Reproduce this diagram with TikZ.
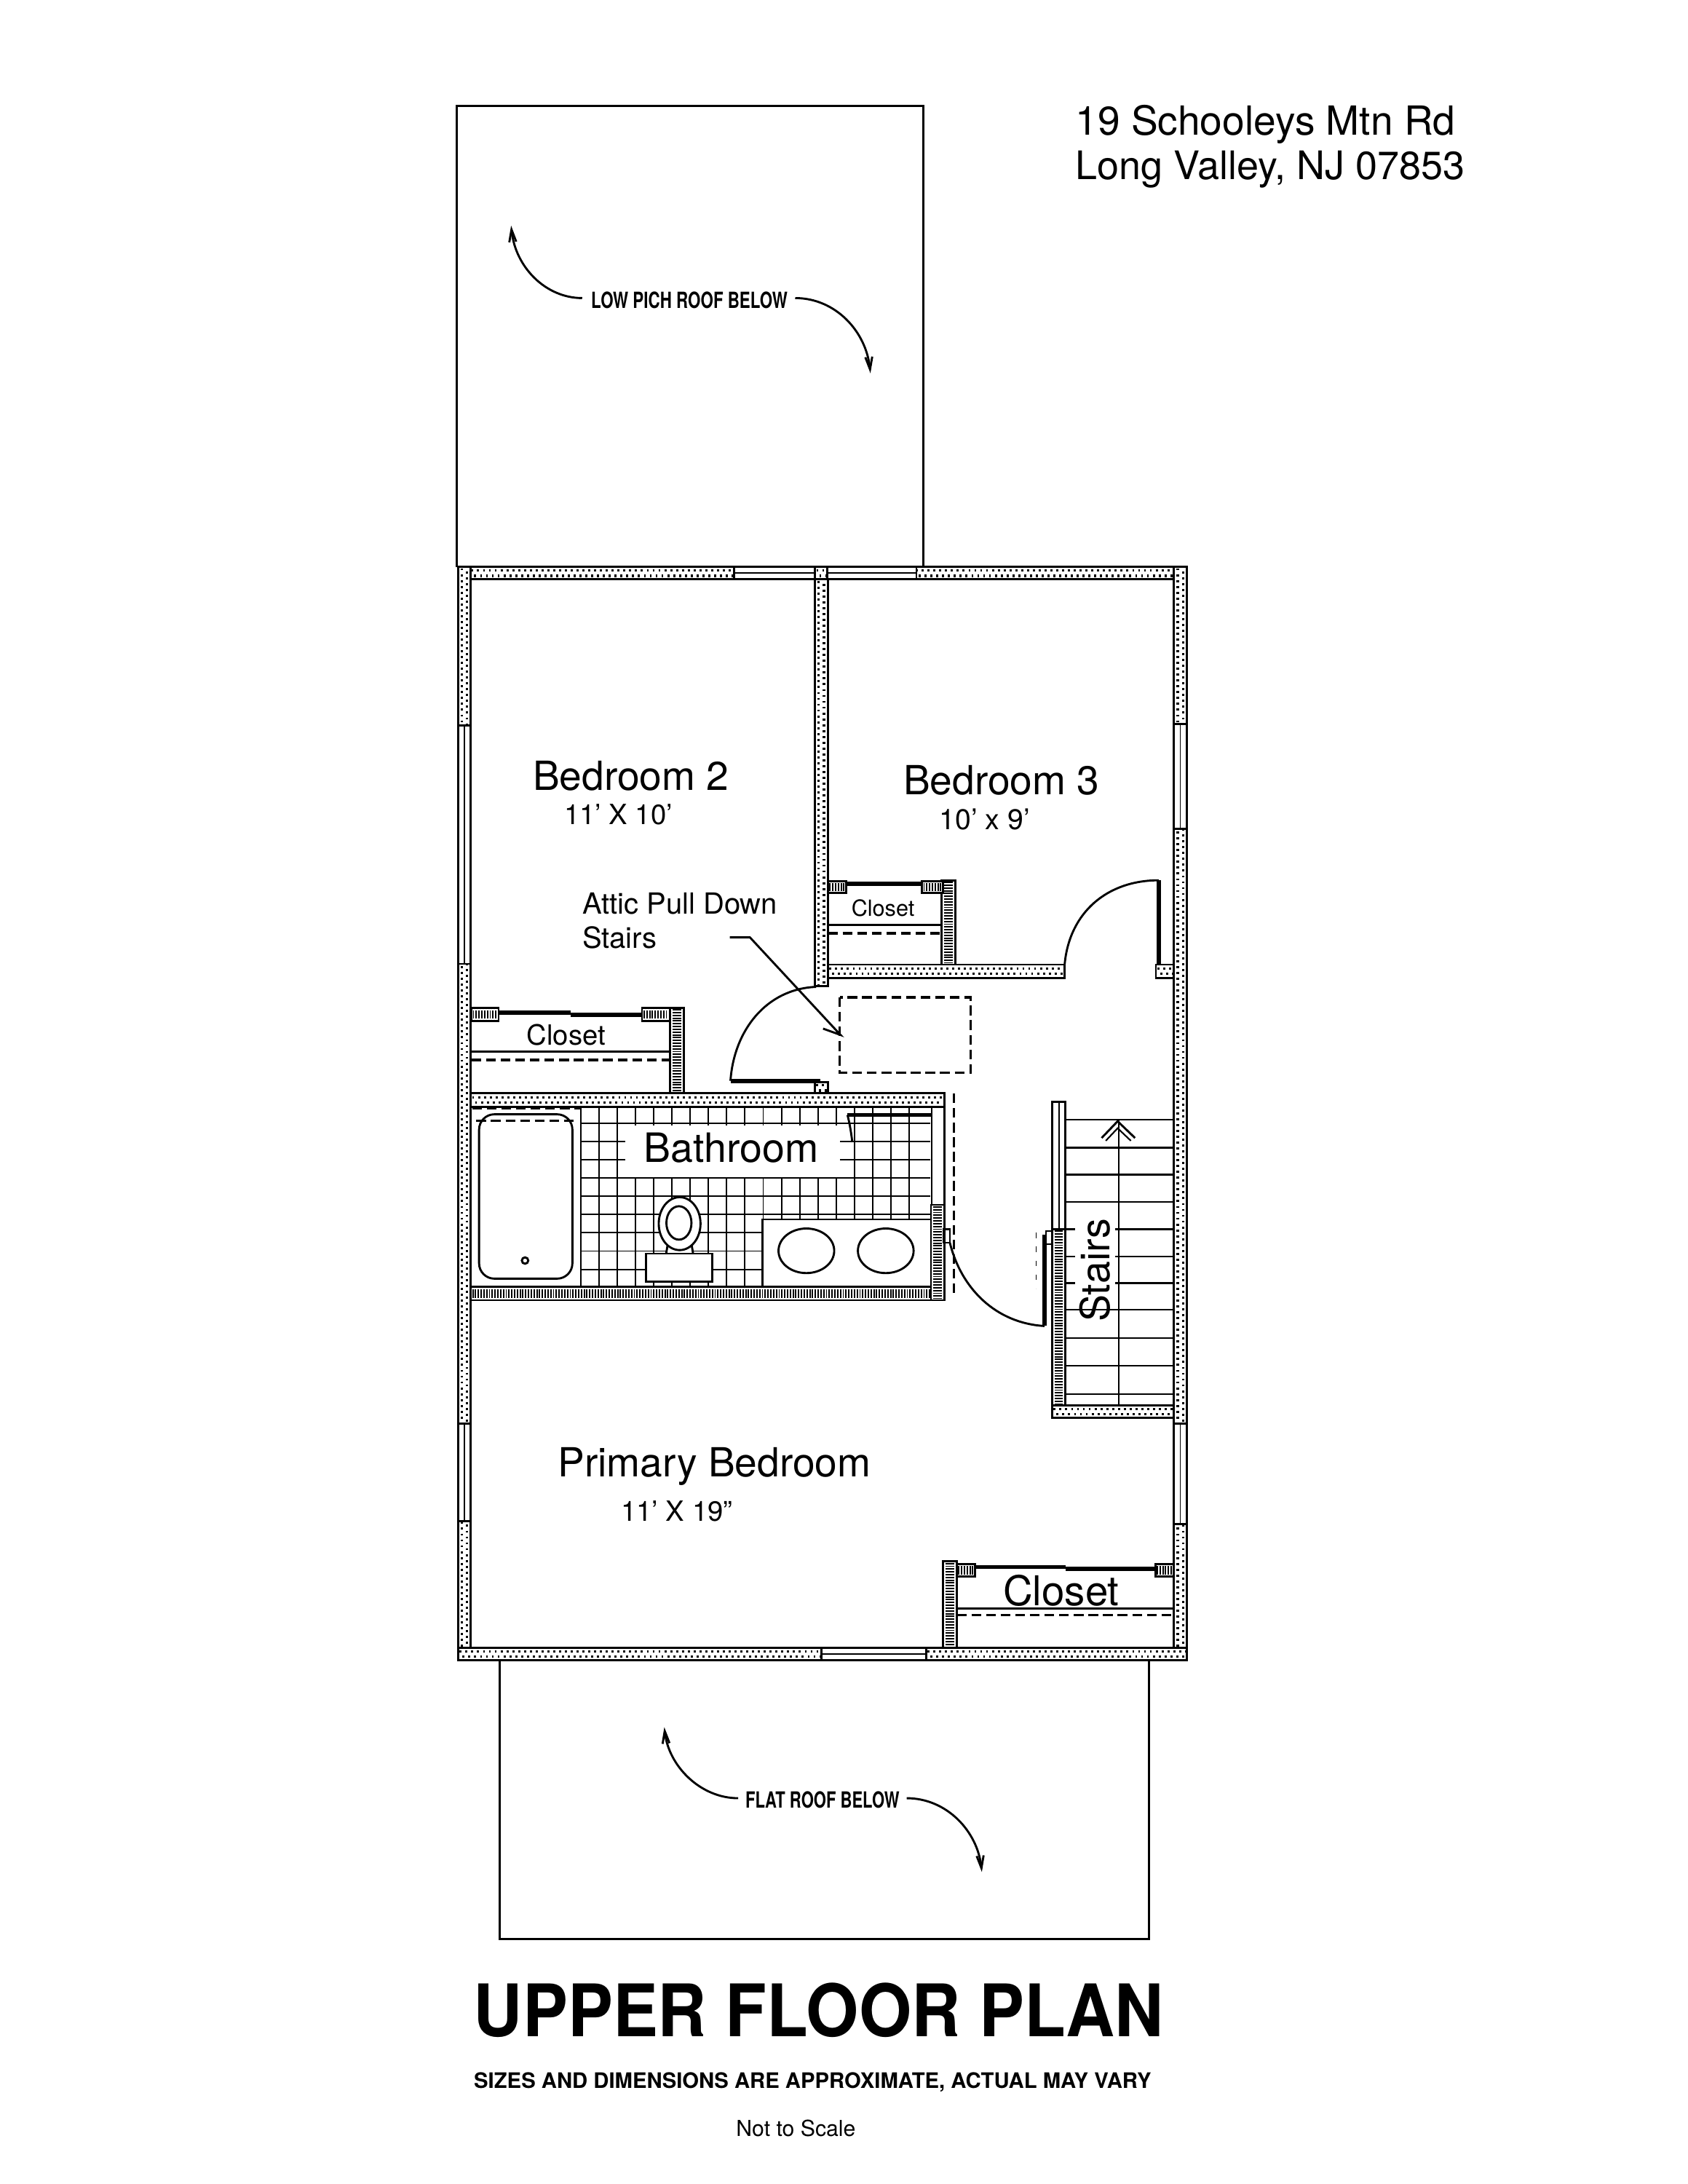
\documentclass[tikz,border=0pt]{standalone}
\usepackage{fontspec}
\setmainfont{TeX Gyre Heros}
\usetikzlibrary{arrows.meta}
\newcommand\fs[1]{\fontsize{#1}{#1}\selectfont}
\tikzset{
  thinline/.style={draw=black,line width=1.1pt},
  medline/.style={draw=black,line width=1.5pt},
  thickline/.style={draw=black,line width=3pt},
  dashline/.style={draw=black,line width=1.8pt,dash pattern=on 7pt off 3.5pt},
  wallbox/.style={draw=black,fill=white,line width=1.5pt},
  walldots/.style={draw=black,line width=1.7pt,dash pattern=on 1.5pt off 2.7pt},
  walldotsb/.style={draw=black,line width=1.7pt,dash pattern=on 1.5pt off 2.7pt,dash phase=2.1pt},
  walldense/.style={draw=black,line width=6pt,dash pattern=on 1pt off 1pt},
  windowline/.style={draw=black,line width=1pt},
  flowarrow/.style={draw=black,line width=1.5pt,-{Straight Barb[length=9pt,width=5pt]}},
  label/.style={inner sep=0pt,text=black},
  tile/.style={draw=black,line width=1pt},
}
\newcommand\hwall[4]{\draw[wallbox] (#1,#3) rectangle (#2,#4);
  \draw[walldots] (#1+1,{(#3+#4)/2-1.9}) -- (#2-1,{(#3+#4)/2-1.9});
  \draw[walldotsb] (#1+1,{(#3+#4)/2+1.9}) -- (#2-1,{(#3+#4)/2+1.9});}
\newcommand\vwall[4]{\draw[wallbox] (#3,#1) rectangle (#4,#2);
  \draw[walldots] ({(#3+#4)/2-1.9},#1+1) -- ({(#3+#4)/2-1.9},#2-1);
  \draw[walldotsb] ({(#3+#4)/2+1.9},#1+1) -- ({(#3+#4)/2+1.9},#2-1);}
\newcommand\hdense[4]{\draw[wallbox] (#1,#3) rectangle (#2,#4); \draw[walldense] (#1+1,{(#3+#4)/2}) -- (#2-1,{(#3+#4)/2});}
\newcommand\vdense[4]{\draw[wallbox] (#3,#1) rectangle (#4,#2); \draw[walldense] ({(#3+#4)/2},#1+1) -- ({(#3+#4)/2},#2-1);}
\newcommand\hwin[4]{\draw[wallbox] (#1,#3) rectangle (#2,#4); \draw[windowline] (#1,{(#3+#4)/2}) -- (#2,{(#3+#4)/2});}
\newcommand\vwin[4]{\draw[wallbox] (#3,#1) rectangle (#4,#2); \draw[windowline] ({(#3+#4)/2},#1) -- ({(#3+#4)/2},#2);}
\begin{document}
\begin{tikzpicture}[x=1pt,y=-1pt]
\useasboundingbox (0,0) rectangle (1211.7,1568);
\fill[white] (0,0) rectangle (1211.7,1568);

% roofs
\draw[medline] (328,407) -- (328,76) -- (663,76) -- (663,407);
\draw[medline] (359,1192) -- (359,1392) -- (825,1392) -- (825,1192);
\node[label,anchor=center,xscale=.73] (lowroof) at (495,215.5) {\fs{16}\bfseries LOW PICH ROOF BELOW};
\coordinate (la) at (418,214); \coordinate (lb) at (367,162);
\coordinate (lc) at (571,214); \coordinate (ld) at (625,268);
\draw[flowarrow] (la) .. controls (392,214) and (370,192) .. (lb);
\draw[flowarrow] (lc) .. controls (600,214) and (622,238) .. (ld);
\node[label,anchor=center,xscale=.72] (flatroof) at (590.5,1292) {\fs{16}\bfseries FLAT ROOF BELOW};
\coordinate (fa) at (530,1291); \coordinate (fb) at (477,1240);
\coordinate (fc) at (651,1291); \coordinate (fd) at (705,1344);
\draw[flowarrow] (fa) .. controls (503,1291) and (480,1268) .. (fb);
\draw[flowarrow] (fc) .. controls (680,1291) and (702,1315) .. (fd);

% bathroom tile grid
\foreach \gx in {417,430.1,...,665} {\draw[tile] (\gx,795) -- (\gx,925);}
\foreach \gy in {806.5,819.6,...,925} {\draw[tile] (417,\gy) -- (668,\gy);}
\fill[white] (449,808) rectangle (603,845);
\draw[thinline,fill=white] (547.5,875.5) rectangle (669,925);
\foreach \sx in {579,636} {
  \draw[medline] (\sx-6.5,912.5) arc[start angle=180,end angle=360,x radius=6.5,y radius=6.5];
  \draw[medline,fill=white] (\sx,898) ellipse[x radius=20,y radius=16];
}
% tub
\draw[medline,fill=white,rounded corners=11pt] (344,800) rectangle (411,918);
\draw[dashline] (342,804.5) -- (415,804.5);
\draw[dashline] (339,795.8) -- (417,795.8);
\draw[medline] (377,905) circle[radius=2.3];
% toilet
\draw[medline,fill=white] (480,890) -- (478,902) -- (498,902) -- (496,890);
\draw[medline,fill=white] (488,878.5) ellipse[x radius=15,y radius=19];
\draw[medline,fill=white] (487.5,878) ellipse[x radius=9,y radius=12];
\draw[medline,fill=white] (464,900) rectangle (511.5,920);
\draw[thickline] (608.5,800.5) -- (673,800.5);
\draw[medline] (608.5,800.5) .. controls (610,806) and (611,812) .. (612,820);

% outer walls
\hwall{329}{852}{407}{416}
\hwin{527}{585}{407}{416}
\hwin{594}{658}{407}{416}
\vwall{407}{1192}{329}{338}
\vwin{521}{692}{329}{338}
\vwin{1022}{1092}{329}{338}
\vwall{407}{1192}{843}{852}
\vwin{520}{595}{843}{852}
\vwin{1022}{1094}{843}{852}
\hwall{329}{852}{1183}{1192}
\hwin{590}{665}{1183}{1192}

% bedroom partition and bedroom 3 closet
\vwall{416}{708}{585}{594.5}
\hwall{594.5}{764.5}{692.5}{702}
\vdense{632}{692.5}{676}{686}
\hdense{594.5}{607.5}{632.5}{641}
\hdense{662}{677}{632.5}{641}
\draw[thickline] (607.5,634.5) -- (662,634.5);
\draw[medline] (594.5,664) -- (676,664);
\draw[dashline] (594.5,670) -- (676,670);
\node[label] (closetc) at (634,652) {\fs{16}Closet};
% bedroom 3 door
\hwall{830}{843}{692.5}{702}
\draw[thickline] (832,632) -- (832,693);
\draw[medline] (764.5,692) .. controls (768,655) and (795,632) .. (832,632);

% bedroom 2 closet
\hdense{338.5}{358}{723.5}{733}
\hdense{461}{481}{723.5}{733}
\vdense{723.5}{784.5}{481}{491}
\draw[thickline] (358,727) -- (410,727);
\draw[thickline] (410,728.5) -- (461,728.5);
\draw[medline] (338.5,755) -- (481,755);
\draw[dashline] (338.5,761) -- (481,761);
\node[label] (closetb) at (406.5,743) {\fs{20}Closet};

% attic opening
\draw[dashline] (603,716) rectangle (697,770);
\coordinate (atticstart) at (524,673); \coordinate (attickink) at (538.5,673); \coordinate (attictip) at (603.5,743);
\draw[medline] (atticstart) -- (attickink) -- (attictip) -- (591,738.5);
\node[label,anchor=west] (atticone) at (418,649) {\fs{20.9}Attic Pull Down};
\node[label,anchor=west] (attictwo) at (418,673) {\fs{20.9}Stairs};

% bathroom door
\draw[medline] (586,708.5) .. controls (550,710) and (527,740) .. (524.5,776);
\draw[thickline] (524.5,776) -- (589,776);
\hwall{585}{594.5}{777}{785}

% bathroom walls
\hwall{338}{678}{785}{794.5}
\hdense{338}{678}{924}{933.5}
\draw[wallbox] (669,794.5) rectangle (678,865);
\vdense{865}{933.5}{668.5}{678}
\draw[thinline] (677.5,882.5) rectangle (682,892);
\draw[dashline] (685,785) -- (685,932);
\node[label] (bathlabel) at (525,824) {\fs{29}Bathroom};

% hall door
\draw[medline] (682,892) .. controls (690,925) and (715,950) .. (750,952);
\draw[thickline] (750,886.5) -- (750,952);
\draw[thinline] (751,884) rectangle (756,893);
\draw[draw=black,line width=.9pt,dash pattern=on 4pt off 6pt] (744,885) -- (744,925);

% stairs
\foreach \ty in {804,824,843.3,863,882.5,902,921.2,940.4,960.7,980.4,1000.7} {\draw[thinline] (765,\ty) -- (843,\ty);}
\draw[thinline] (803.5,804) -- (803.5,1009);
\draw[medline] (791,817) -- (802.5,805) -- (815,817);
\draw[thinline] (794,819) -- (802.5,810) -- (812,819);
\fill[white] (772,874) rectangle (800.5,935);
\vwin{791}{882.5}{755.5}{765}
\vdense{882.5}{1010}{755.5}{765}
\hwall{755.5}{843}{1009}{1018}
\node[label,rotate=90] (stairslabel) at (786,912) {\fs{29}Stairs};

% primary closet
\vdense{1121}{1183}{677}{687}
\hdense{687}{700}{1123}{1132}
\hdense{829.5}{843}{1123}{1132}
\draw[thickline] (700,1125) -- (765,1125);
\draw[thickline] (765,1126.5) -- (829.5,1126.5);
\draw[medline] (687,1155) -- (843,1155);
\draw[dashline] (687,1159.5) -- (843,1159.5);
\node[label] (closeta) at (762,1142) {\fs{29.5}Closet};

% room labels
\node[label] (bedtwo) at (453,557) {\fs{28.8}Bedroom 2};
\node[label] (bedtwosize) at (444,585) {\fs{20}11’ X 10’};
\node[label] (bedthree) at (719,560) {\fs{28.8}Bedroom 3};
\node[label] (bedthreesize) at (707,588) {\fs{20.5}10’ x 9’};
\node[label] (primary) at (513,1053) {\fs{28.8}Primary Bedroom};
\node[label] (primarysize) at (486,1085) {\fs{20}11’ X 19”};

% address and title
\node[label,anchor=base west] (addrone) at (772,97) {\fs{28.8}19 Schooleys Mtn Rd};
\node[label,anchor=base west] (addrtwo) at (772,129) {\fs{28.2}Long Valley, NJ 07853};
\node[label,xscale=.934] (title) at (588,1443) {\fs{52}\bfseries UPPER FLOOR PLAN};
\node[label] (subtitle) at (583.5,1495) {\fs{15.3}\bfseries SIZES AND DIMENSIONS ARE APPROXIMATE, ACTUAL MAY VARY};
\node[label] (scale) at (571.5,1528) {\fs{15.8}Not to Scale};
\end{tikzpicture}
\end{document}
